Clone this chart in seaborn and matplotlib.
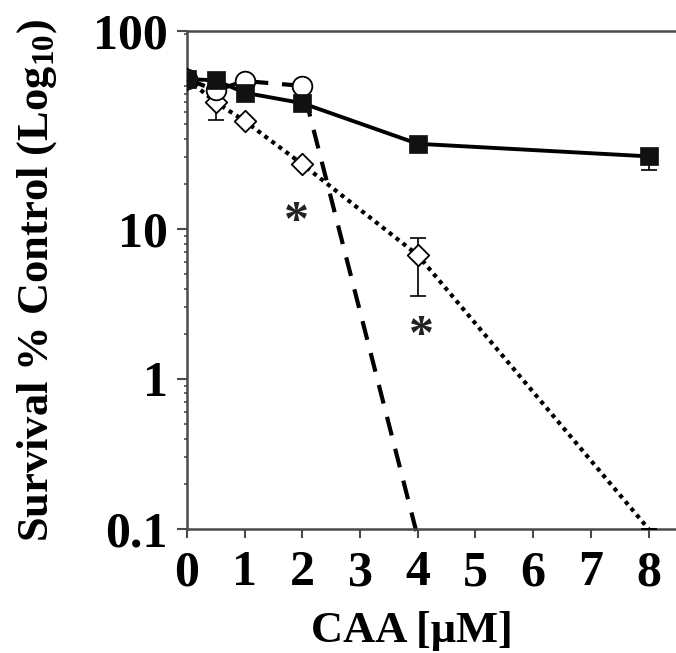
import matplotlib
matplotlib.use("Agg")
import matplotlib.pyplot as plt
import seaborn as sns
import numpy as np
import pandas as pd
from matplotlib.ticker import FixedLocator, LogLocator, NullFormatter

# ---- data ----
dose_sq = [0, 0.5, 1, 2, 4, 8]
surv_sq = [100, 98, 81, 69, 37, 30.5]
err_sq_lo = [0, 0, 0, 0, 0, 5.8]
err_sq_hi = [0, 0, 0, 0, 0, 3.0]

dose_circ = [0, 0.5, 1, 2, 4]
surv_circ = [100, 84, 97, 90, 0.088]

dose_dia = [0, 0.5, 1, 2, 4, 8]
surv_dia = [100, 70, 52.5, 27, 6.7, 0.1]
err_dia_lo = [0, 17, 0, 0, 3.1, 0]
err_dia_hi = [0, 17, 0, 0, 2.0, 0]

x_ticks = [0, 1, 2, 3, 4, 5, 6, 7, 8]
y_tick_vals = [0.1, 1, 10, 209]
y_tick_labels = ["0.1", "1", "10", "100"]

star_x = [1.9, 4.06]
star_y = [11.0, 1.9]

sns.set_theme(style="white")
plt.rcParams["font.family"] = ["Liberation Serif", "DejaVu Serif"]
plt.rcParams["font.weight"] = "bold"
plt.rcParams["text.color"] = "black"
plt.rcParams["axes.labelcolor"] = "black"
plt.rcParams["mathtext.fontset"] = "custom"
plt.rcParams["mathtext.rm"] = "Liberation Serif:bold"
plt.rcParams["mathtext.bf"] = "Liberation Serif:bold"
plt.rcParams["mathtext.it"] = "Liberation Serif:italic:bold"

fig = plt.figure(figsize=(6.76, 6.53), dpi=100)
ax = fig.add_axes([0.2766, 0.19, 0.7234, 0.7625])
ax.set_yscale("log")

df_sq = pd.DataFrame({"dose": dose_sq, "surv": surv_sq})
df_c = pd.DataFrame({"dose": dose_circ, "surv": surv_circ})
df_d = pd.DataFrame({"dose": dose_dia, "surv": surv_dia})

# lines
sns.lineplot(data=df_d, x="dose", y="surv", ax=ax, color="black", lw=3.0,
             linestyle=(0, (1, 1.1)), sort=False, zorder=2)
sns.lineplot(data=df_c, x="dose", y="surv", ax=ax, color="black", lw=3.0,
             linestyle=(0, (4.6, 3.3)), sort=False, zorder=2, clip_on=False)
sns.lineplot(data=df_sq, x="dose", y="surv", ax=ax, color="black", lw=2.8,
             sort=False, zorder=3)

# error bars
ax.errorbar(dose_dia, surv_dia, yerr=[err_dia_lo, err_dia_hi], fmt="none",
            ecolor="black", elinewidth=1.2, capsize=6, capthick=1.2, zorder=4)
ax.errorbar(dose_sq, surv_sq, yerr=[err_sq_lo, err_sq_hi], fmt="none",
            ecolor="black", elinewidth=1.2, capsize=6, capthick=1.2, zorder=4)

# markers
sns.scatterplot(data=df_d.iloc[:5], x="dose", y="surv", ax=ax, marker="D",
                s=120, facecolor="white", edgecolor="black", linewidth=1.3, zorder=5)
sns.scatterplot(data=df_c.iloc[:4], x="dose", y="surv", ax=ax, marker="o",
                s=200, facecolor="white", edgecolor="black", linewidth=1.3, zorder=6)
sns.scatterplot(data=df_sq, x="dose", y="surv", ax=ax, marker="s",
                s=170, color="#111111", edgecolor="#111111", linewidth=0.5, zorder=7)

for sx, sy in zip(star_x, star_y):
    ax.text(sx, sy, "*", fontsize=36, ha="center", va="center",
            fontweight="bold", color="#222222")

ax.set_xlim(0, 8.476)
ax.set_ylim(0.1, 209)
ax.set_xticks(x_ticks)
ax.set_xticklabels([str(t) for t in x_ticks])
ax.yaxis.set_major_locator(FixedLocator(y_tick_vals))
ax.set_yticklabels(y_tick_labels)
ax.yaxis.set_minor_locator(LogLocator(base=10, subs=np.arange(2, 10), numticks=20))
ax.yaxis.set_minor_formatter(NullFormatter())

spine_c = "#4a4a4a"
for s in ["left", "bottom", "top"]:
    ax.spines[s].set_visible(True)
    ax.spines[s].set_color(spine_c)
    ax.spines[s].set_linewidth(1.8)
ax.spines["right"].set_visible(False)

ax.tick_params(axis="both", which="major", labelsize=36, labelcolor="black",
               color=spine_c, width=1.5)
ax.tick_params(axis="x", which="major", direction="out", length=6.5, bottom=True, pad=9)
ax.tick_params(axis="y", which="major", direction="out", length=7, left=True, pad=7)
ax.tick_params(axis="y", which="minor", direction="out", length=2.2, width=1.2,
               left=True, color=spine_c)
for lab in ax.get_xticklabels() + ax.get_yticklabels():
    lab.set_fontweight("bold")

ax.set_xlabel("CAA [μM]", fontsize=32, fontweight="bold", color="black")
ax.set_ylabel("Survival % Control (Log$_{10}$)", fontsize=32, fontweight="bold",
              color="black")
ax.xaxis.set_label_coords(0.46, -0.165)
ax.yaxis.set_label_coords(-0.262, 0.5)

fig.savefig("out.png", dpi=100)
